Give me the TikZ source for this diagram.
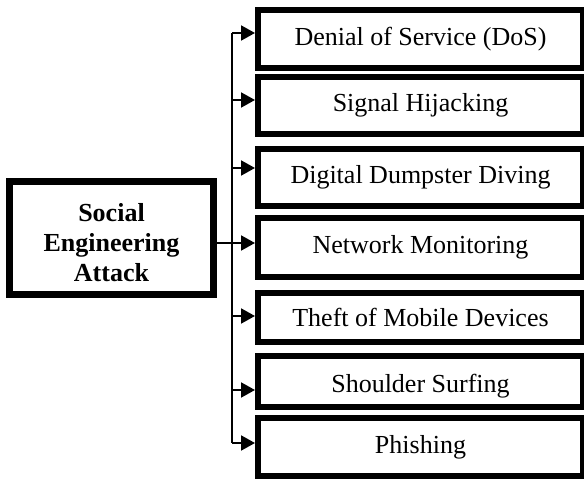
\documentclass[tikz,border=0pt]{standalone}
\usepackage{fontspec}
\setmainfont{Liberation Serif}
\usetikzlibrary{arrows.meta}
\newcommand{\lowerstrut}{\rule{0pt}{28pt}}
\begin{document}
\begin{tikzpicture}[x=1pt,y=-1pt,
  attack/.style={draw, line width=6pt, minimum width=325pt, inner sep=0pt,
    font=\fontsize{26}{30}\selectfont},
  source/.style={draw, line width=7pt, minimum width=204pt, minimum height=113pt,
    align=center, inner sep=0pt, font=\fontsize{26}{30}\selectfont\bfseries},
  link/.style={line width=2pt, -{Triangle[length=14pt,width=15pt]}},
  trunkline/.style={line width=2pt}]
\useasboundingbox[fill=white] (0,0) rectangle (584,481);

% root of the tree
\node[source] (src) at (111.5,238) {\lowerstrut Social\\Engineering\\Attack};

% kinds of attack
\node[attack, minimum height=58pt] (dos)      at (420.5,39)    {Denial of Service (DoS)};
\node[attack, minimum height=57pt] (hijack)   at (420.5,105.5) {Signal Hijacking};
\node[attack, minimum height=57pt] (dumpster) at (420.5,177.5) {Digital Dumpster Diving};
\node[attack, minimum height=59pt] (monitor)  at (420.5,247.5) {Network Monitoring};
\node[attack, minimum height=49pt] (theft)    at (420.5,317.5) {Theft of Mobile Devices};
\node[attack, minimum height=51pt] (shoulder) at (420.5,381.5) {\lowerstrut Shoulder Surfing};
\node[attack, minimum height=58pt] (phish)    at (420.5,447)   {Phishing};

% where each branch meets its box
\coordinate (trunk) at (232,0);
\coordinate (in1) at ([yshift=6pt]dos.west);
\coordinate (in2) at ([yshift=5.5pt]hijack.west);
\coordinate (in3) at ([yshift=9.5pt]dumpster.west);
\coordinate (in4) at ([yshift=4.5pt]monitor.west);
\coordinate (in5) at ([yshift=1.5pt]theft.west);
\coordinate (in6) at ([yshift=-8.5pt]shoulder.west);
\coordinate (in7) at ([yshift=4pt]phish.west);

% vertical bus and branches
\draw[trunkline] (trunk |- in1) -- (trunk |- in7);
\foreach \i in {1,2,3,5,6,7}
  \draw[link] (trunk |- in\i) -- (in\i);
\draw[link] (src.east |- in4) -- (in4);
\end{tikzpicture}
\end{document}
